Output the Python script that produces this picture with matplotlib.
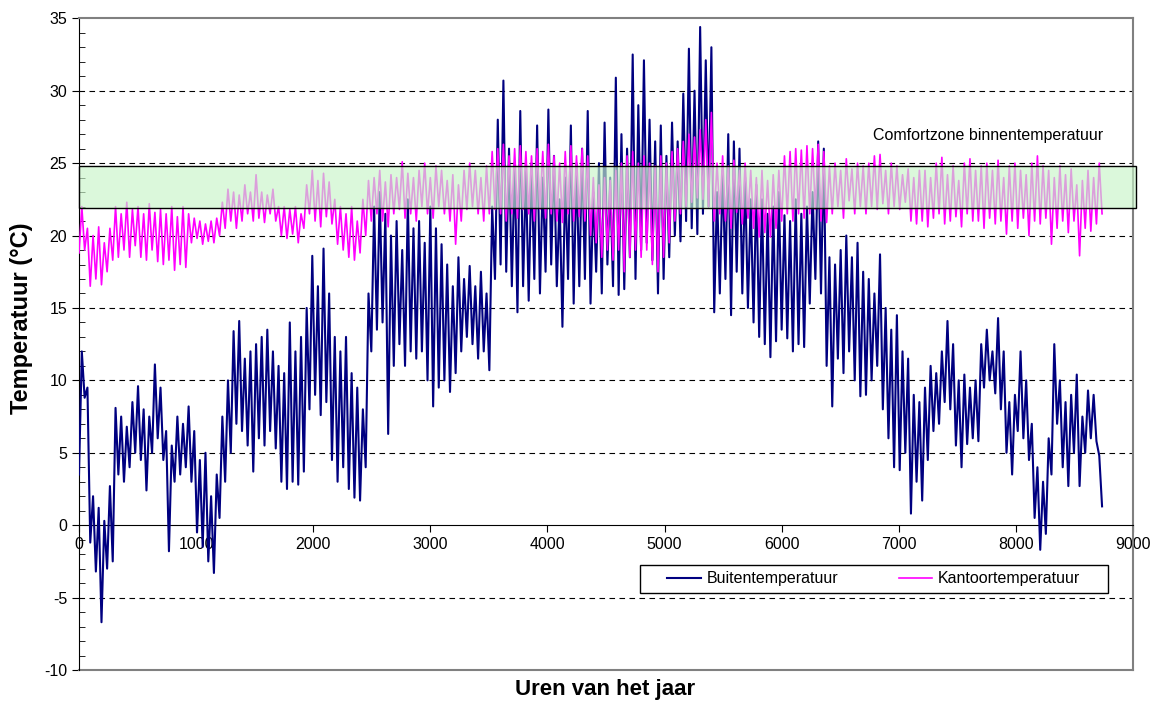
import numpy as np
import matplotlib.pyplot as plt
from matplotlib.patches import Rectangle

plt.rcParams['font.family'] = ['Liberation Sans', 'DejaVu Sans']
plt.rcParams['axes.unicode_minus'] = False

# daily samples (every 24 h), alternating night low / day high
hours = np.arange(0, 8760, 24)

buiten = [
    3.5, 12.0, 8.8, 9.5, -1.2, 2.0, -3.2, 1.2, -6.7, 0.3, -3.0, 2.7, -2.5, 8.1, 3.5, 7.5, 3.0, 6.8, 4.0, 8.5,
    5.0, 9.6, 4.5, 8.0, 2.4, 7.5, 5.0, 11.1, 6.0, 9.5, 4.5, 6.5, -1.8, 5.5, 3.0, 7.5, 3.5, 7.0, 4.0, 8.2,
    3.0, 6.5, -0.5, 4.5, -1.5, 5.0, -2.5, 2.0, -3.3, 3.5, 0.5, 7.5, 3.0, 10.0, 5.0, 13.4, 7.0, 14.1, 6.5, 11.5,
    5.5, 12.0, 3.7, 12.5, 6.0, 13.0, 5.5, 13.5, 6.5, 12.0, 5.3, 11.0, 3.0, 10.5, 2.5, 14.0, 3.0, 12.0, 2.8, 13.0,
    3.7, 15.0, 8.0, 18.6, 9.0, 16.5, 7.6, 19.1, 8.5, 16.0, 4.5, 13.0, 3.0, 12.0, 4.0, 13.0, 2.5, 10.5, 1.9, 9.5,
    1.7, 8.0, 4.0, 16.0, 12.0, 22.0, 13.5, 23.0, 14.0, 21.5, 6.3, 20.0, 11.0, 21.0, 12.5, 19.0, 11.0, 22.5, 12.0, 20.5,
    11.5, 21.0, 12.0, 19.5, 10.0, 22.0, 8.2, 20.5, 9.5, 19.4, 10.0, 18.0, 9.2, 16.5, 10.5, 18.5, 12.0, 17.0, 13.0, 17.9,
    12.5, 16.5, 11.5, 17.5, 12.0, 16.0, 10.7, 22.0, 17.0, 28.0, 18.0, 30.7, 17.5, 26.0, 16.5, 25.0, 14.7, 28.6, 16.5, 24.5,
    15.5, 25.0, 17.0, 27.6, 16.0, 24.0, 17.5, 28.7, 18.0, 25.5, 16.5, 22.5, 13.7, 24.0, 17.0, 27.6, 15.3, 25.0, 16.5, 26.0,
    17.0, 28.6, 15.3, 23.0, 17.5, 25.0, 16.0, 27.8, 18.0, 24.0, 16.5, 30.9, 15.9, 27.0, 16.3, 26.0, 18.5, 32.5, 17.0, 29.0,
    19.0, 32.1, 19.5, 28.0, 18.3, 26.5, 16.0, 27.6, 17.0, 25.5, 18.5, 27.8, 20.0, 26.5, 19.6, 29.8, 21.0, 32.9, 20.5, 30.0,
    20.1, 34.4, 21.5, 32.1, 22.0, 33.0, 14.7, 23.0, 16.0, 24.5, 17.0, 27.0, 14.5, 26.5, 17.5, 26.0, 16.0, 24.0, 15.0, 22.5,
    14.0, 23.5, 13.0, 22.5, 12.5, 21.5, 11.6, 22.0, 12.7, 23.0, 13.5, 21.4, 12.9, 21.0, 12.0, 22.5, 12.5, 21.5, 12.3, 22.0,
    15.3, 23.0, 17.0, 26.5, 16.0, 26.0, 11.0, 18.5, 8.2, 18.0, 11.5, 19.0, 10.5, 20.0, 12.0, 18.5, 10.0, 19.5, 8.9, 17.5,
    9.0, 17.0, 10.0, 16.0, 11.0, 18.7, 8.0, 15.0, 6.0, 13.5, 4.0, 14.5, 3.8, 12.0, 5.0, 11.5, 0.8, 9.0, 3.0, 8.5,
    1.7, 9.5, 4.5, 11.0, 6.5, 10.5, 7.0, 12.0, 8.5, 14.1, 8.0, 12.5, 5.5, 10.0, 4.0, 10.4, 5.6, 9.5, 6.0, 10.0,
    5.8, 12.5, 9.5, 13.5, 10.0, 12.0, 9.1, 14.3, 8.0, 12.0, 5.0, 8.5, 3.5, 9.0, 6.5, 12.0, 6.0, 10.0, 4.5, 7.0,
    0.5, 4.0, -1.7, 3.0, -0.6, 6.0, 3.5, 12.5, 7.0, 10.0, 4.0, 8.5, 2.7, 9.0, 5.0, 10.4, 2.7, 7.5, 5.0, 9.3,
    6.0, 9.0, 5.8, 4.8, 1.3,
]

kantoor = [
    18.8, 22.0, 19.0, 20.5, 16.5, 20.0, 17.0, 20.6, 16.6, 19.5, 17.5, 20.5, 18.3, 22.0, 18.5, 21.5, 19.0, 22.3, 18.5, 21.8,
    19.3, 22.0, 18.5, 21.5, 18.3, 22.2, 19.0, 21.6, 18.2, 21.8, 18.0, 21.5, 18.3, 22.0, 17.6, 21.3, 18.0, 22.0, 17.8, 21.5,
    19.5, 21.2, 19.8, 21.0, 19.4, 20.8, 19.6, 21.0, 19.5, 21.2, 20.0, 22.3, 20.5, 23.2, 21.0, 23.0, 20.5, 22.8, 21.0, 23.5,
    21.5, 23.0, 21.0, 24.2, 21.2, 23.0, 20.9, 22.8, 21.5, 23.2, 21.0, 22.0, 20.0, 22.0, 19.8, 21.8, 20.1, 22.0, 19.5, 21.5,
    20.5, 23.5, 21.5, 24.5, 21.0, 23.8, 20.6, 24.3, 21.3, 23.7, 20.8, 22.5, 19.4, 22.0, 19.0, 21.5, 18.5, 22.0, 18.3, 21.0,
    18.8, 22.5, 20.0, 23.8, 21.0, 24.0, 21.5, 24.5, 21.0, 23.7, 20.6, 24.2, 21.5, 24.0, 21.8, 25.1, 21.2, 24.3, 21.5, 24.0,
    21.0, 24.5, 22.0, 25.0, 21.5, 24.0, 21.2, 24.8, 22.0, 24.5, 21.5, 23.8, 21.0, 24.2, 19.4, 23.5, 21.0, 24.5, 21.8, 25.0,
    22.0, 24.5, 21.5, 24.0, 21.0, 24.8, 21.5, 25.8, 21.8, 26.0, 21.5, 26.3, 21.0, 25.5, 21.5, 26.0, 21.2, 26.2, 21.8, 25.8,
    21.5, 25.5, 21.0, 26.0, 21.8, 25.8, 21.2, 26.3, 21.5, 25.5, 21.0, 25.0, 20.9, 25.8, 21.5, 26.2, 21.0, 25.5, 21.3, 26.0,
    21.0, 25.5, 20.0, 24.0, 19.5, 23.5, 18.5, 24.0, 19.0, 23.8, 18.3, 24.5, 19.0, 25.0, 17.5, 25.5, 18.5, 25.8, 19.0, 25.0,
    18.5, 25.5, 19.0, 25.0, 18.0, 24.8, 17.5, 25.5, 18.5, 25.0, 19.5, 25.8, 21.0, 26.0, 21.5, 26.5, 22.0, 27.0, 22.3, 26.8,
    22.6, 27.3, 22.5, 28.0, 22.0, 28.5, 21.0, 25.0, 21.5, 25.5, 21.0, 24.8, 20.5, 25.2, 21.6, 24.5, 20.8, 25.0, 21.2, 24.5,
    20.5, 24.0, 19.9, 24.5, 20.2, 23.8, 19.9, 24.2, 20.5, 24.5, 21.0, 25.5, 21.5, 25.8, 21.0, 26.0, 21.5, 25.9, 21.2, 26.2,
    21.5, 26.0, 21.8, 26.3, 21.0, 25.8, 20.9, 24.8, 21.5, 25.0, 22.0, 24.5, 21.2, 25.3, 22.4, 24.6, 21.5, 25.0, 22.0, 24.8,
    21.5, 25.0, 22.0, 25.5, 21.8, 25.6, 22.2, 24.5, 21.5, 25.0, 22.0, 24.8, 21.8, 24.2, 22.3, 24.6, 21.0, 24.0, 20.8, 24.5,
    21.0, 24.5, 20.6, 24.0, 21.2, 25.0, 21.5, 25.4, 20.8, 24.2, 21.0, 24.8, 21.3, 23.8, 20.6, 25.0, 21.5, 25.3, 21.0, 24.5,
    21.0, 24.8, 20.5, 25.0, 21.2, 24.5, 20.8, 25.2, 21.0, 24.0, 20.1, 24.8, 21.0, 25.0, 20.5, 24.5, 21.2, 24.2, 20.0, 25.0,
    21.0, 25.5, 20.8, 24.8, 21.2, 24.5, 19.4, 24.0, 20.5, 24.8, 21.0, 24.2, 20.2, 24.6, 21.0, 23.5, 18.6, 23.8, 20.5, 24.5,
    20.3, 24.0, 20.8, 25.0, 21.5,
]

comfort_low = 21.9
comfort_high = 24.8

fig = plt.figure(figsize=(11.5, 7.01), dpi=100)
ax = fig.add_axes([0.0687, 0.0442, 0.9165, 0.9297])

ax.plot(hours, buiten, color='#000080', lw=1.5, label='Buitentemperatuur', zorder=3)
ax.plot(hours, kantoor, color='#ff00ff', lw=1.2, label='Kantoortemperatuur', zorder=3)

# comfort band drawn over the curves, semi transparent
ax.add_patch(Rectangle((0, comfort_low), 9030, comfort_high - comfort_low,
                       facecolor='#c8f5c8', edgecolor='none', alpha=0.65,
                       zorder=4, clip_on=False))
ax.add_patch(Rectangle((0, comfort_low), 9030, comfort_high - comfort_low,
                       fill=False, edgecolor='black', lw=1.0, zorder=5, clip_on=False))
ax.text(6779, 26.9, 'Comfortzone binnentemperatuur', fontsize=11.5, ha='left', va='center')

ax.set_xlim(0, 9000)
ax.set_ylim(-10, 35)
ax.set_xticks(np.arange(0, 9001, 1000))
ax.set_yticks(np.arange(-10, 36, 5))
ax.set_yticks(np.arange(-10, 36, 1), minor=True)
ax.tick_params(axis='both', labelsize=11.5)
ax.tick_params(axis='y', which='major', direction='out', length=5)
ax.tick_params(axis='y', which='minor', direction='in', length=4)
ax.tick_params(axis='x', which='major', direction='out', length=5)

for y in [-5, 5, 10, 15, 20, 25, 30]:
    ax.axhline(y, color='black', lw=0.8, ls=(0, (5, 4)), zorder=1)

ax.spines['bottom'].set_position(('data', 0))
ax.spines['bottom'].set_color('black')
ax.spines['left'].set_color('black')
for side in ['top', 'right']:
    ax.spines[side].set_color('#808080')
    ax.spines[side].set_linewidth(1.5)
ax.axhline(-10, color='#808080', lw=1.5, zorder=2, clip_on=False)

ax.set_ylabel('Temperatuur (°C)', fontsize=17, fontweight='bold')
ax.set_xlabel('Uren van het jaar', fontsize=16, fontweight='bold')
ax.yaxis.set_label_coords(-0.0436, 0.54)
ax.xaxis.set_label_coords(0.499, -0.014)

# legend entries without frame, box drawn separately
leg = ax.legend(loc='center', bbox_to_anchor=(0.754, 0.1398), ncol=2, fontsize=11.5,
                frameon=False, handlelength=2.1, handletextpad=0.35, columnspacing=3.8)
leg.set_zorder(7)
ax.add_patch(Rectangle((0.5323, 0.1183), 0.444, 0.043, transform=ax.transAxes,
                       facecolor='white', edgecolor='black', lw=1.0, zorder=6))

fig.savefig('out.png', dpi=100)
